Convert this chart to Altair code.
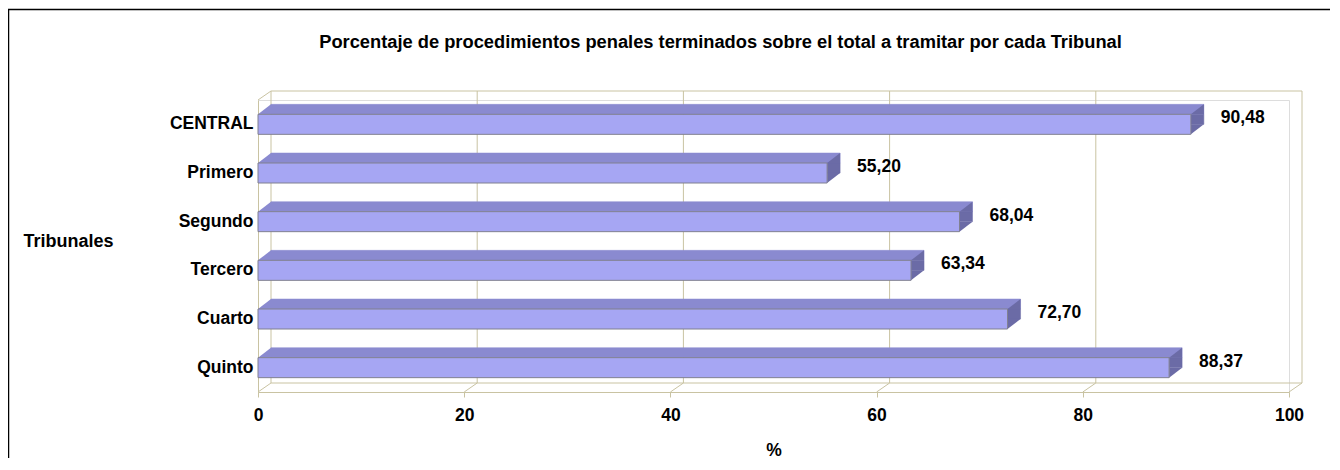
import altair as alt
import pandas as pd

# ---- data ----
tribunales = ["CENTRAL", "Primero", "Segundo", "Tercero", "Cuarto", "Quinto"]
porcentajes = [90.48, 55.20, 68.04, 63.34, 72.70, 88.37]
ticks = [0, 20, 40, 60, 80, 100]

title_text = ["Porcentaje de procedimientos penales terminados sobre el total a tramitar por cada Tribunal"]

FONT = "Liberation Sans"
FRONT = "#A6A6F3"
TOP = "#8A8AD0"
SIDE = "#6B6BA6"
EDGE = "#808090"
WALL = "#C9C3A2"

DX, DY = 13, 10     # bar depth (px)
WDX, WDY = 13, 9    # wall depth (px)

df = pd.DataFrame({
    "tribunal": tribunales,
    "pct": porcentajes,
    "base": [0] * len(tribunales),
    "label": [f"{v:.2f}".replace(".", ",") for v in porcentajes],
})
grid = pd.DataFrame({"t": ticks})
one = pd.DataFrame({"a": [0]})
tdf = pd.DataFrame({"title": title_text})

W, H = 1031, 292

xscale = alt.Scale(domain=[0, 100], nice=False, zero=True)
yscale = alt.Scale(domain=tribunales, paddingInner=0, paddingOuter=0)

y_axis = alt.Axis(
    title="Tribunales", titleAngle=0, titleAlign="left", titleBaseline="middle",
    titleX=-235, titleY=141, titleFont=FONT, titleFontSize=18, titleFontWeight="bold",
    titleColor="black",
    labelFont=FONT, labelFontSize=17.5, labelFontWeight="bold", labelColor="black",
    labelPadding=5, ticks=False, domainColor=WALL, domainWidth=1, grid=False,
)
x_axis = alt.Axis(
    title="%", titleY=58, titleBaseline="middle", titleFont=FONT, titleFontSize=17.5,
    titleFontWeight="bold", titleColor="black",
    values=ticks, format="d", labelFont=FONT, labelFontSize=17.5, labelFontWeight="bold",
    labelColor="black", labelPadding=9, tickColor=WALL, tickSize=5, domainColor=WALL,
    domainWidth=1, grid=False, labelFlush=False,
)


def Y():
    return alt.Y("tribunal:N", sort=tribunales, scale=yscale, axis=y_axis)


def X(f):
    return alt.X(f, scale=xscale, axis=x_axis)


# ---- walls ----
back_grid = alt.Chart(grid).mark_rule(color=WALL, xOffset=WDX, strokeWidth=1).encode(
    x=X("t:Q"), y=alt.value(-WDY), y2=alt.value(H - WDY)
)
floor_diag = alt.Chart(grid).mark_rule(color=WALL, x2Offset=WDX, strokeWidth=1).encode(
    x=X("t:Q"), x2="t:Q", y=alt.value(H), y2=alt.value(H - WDY)
)
back_top = alt.Chart(one).mark_rule(color=WALL, xOffset=WDX, x2Offset=WDX).encode(
    x=alt.datum(0, scale=xscale), x2=alt.datum(100), y=alt.value(-WDY)
)
back_floor = alt.Chart(one).mark_rule(color=WALL, xOffset=WDX, x2Offset=WDX).encode(
    x=alt.datum(0, scale=xscale), x2=alt.datum(100), y=alt.value(H - WDY)
)
left_top = alt.Chart(one).mark_rule(color=WALL, x2Offset=WDX).encode(
    x=alt.datum(0, scale=xscale), x2=alt.datum(0), y=alt.value(0), y2=alt.value(-WDY)
)

# ---- frame ----
frame_left = alt.Chart(one).mark_rule(color="black", strokeWidth=1.5).encode(
    x=alt.value(-249.5), y=alt.value(-90.5), y2=alt.value(360)
)
frame_top = alt.Chart(one).mark_rule(color="black", strokeWidth=1.5).encode(
    x=alt.value(-250), x2=alt.value(1100), y=alt.value(-90.5)
)

# ---- title ----
title = alt.Chart(tdf).mark_text(font=FONT, fontSize=18.3, fontWeight="bold", color="black",
                                 align="center", baseline="alphabetic").encode(
    x=alt.value(462.5), y=alt.value(-52), text="title:N"
)

# ---- bars (pseudo 3D) ----
base = alt.Chart(df)
top_face = base.mark_bar(color=TOP, xOffset=DX, x2Offset=DX, size=DY, yOffset=-(20 + DY) / 2,
                         stroke=TOP, strokeWidth=0.5).encode(
    x=X("base:Q"), x2="pct:Q", y=Y()
)
s = DX / 2.0
ry = DY / s
tri_top = f"M0,{-10/s:.4f}L2,{-(10+DY)/s:.4f}L2,{-10/s:.4f}Z"
tri_bot = f"M0,0L2,0L0,{ry:.4f}Z"
left_tri = base.mark_point(shape=tri_top, size=DX * DX, filled=True, opacity=1,
                           strokeWidth=0, color=TOP).encode(x=X("base:Q"), y=Y())
side_rect = base.mark_bar(color=SIDE, x2Offset=DX, size=20 - DY, yOffset=-DY / 2,
                          stroke=SIDE, strokeWidth=0.5).encode(
    x=X("pct:Q"), x2="pct:Q", y=Y()
)
side_tri_top = base.mark_point(shape=tri_top, size=DX * DX, filled=True, opacity=1,
                               strokeWidth=0, color=SIDE).encode(x=X("pct:Q"), y=Y())
side_tri_bot = base.mark_point(shape=tri_bot, size=DX * DX, filled=True, opacity=1,
                               strokeWidth=0, color=SIDE).encode(x=X("pct:Q"), y=Y())
front = base.mark_bar(color=FRONT, size=20, stroke=EDGE, strokeWidth=1).encode(
    x=X("base:Q"), x2="pct:Q", y=Y()
)
labels = base.mark_text(align="left", baseline="middle", dx=30, dy=-6, font=FONT,
                        fontSize=17.5, fontWeight="bold", color="black").encode(
    x=X("pct:Q"), y=Y(), text="label:N"
)

chart = alt.layer(
    frame_left, frame_top, title,
    back_grid, back_top, back_floor, floor_diag, left_top,
    top_face, left_tri, side_rect, side_tri_top, side_tri_bot, front, labels,
).properties(
    width=W, height=H,
    autosize=alt.AutoSizeParams(type="none"),
    padding={"left": 250, "top": 92, "right": 41, "bottom": 66},
).configure_view(stroke=None).configure(background="white")

chart.save("out.html", embed_options={"renderer": "svg", "actions": False})
